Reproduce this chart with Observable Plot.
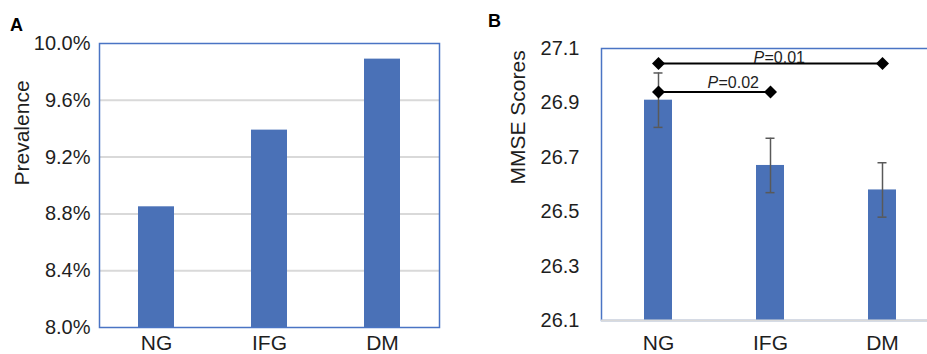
<!DOCTYPE html>
<html><head><meta charset="utf-8">
<script src="https://cdn.jsdelivr.net/npm/d3@7"></script>
<script src="https://cdn.jsdelivr.net/npm/@observablehq/plot@0.6"></script>
<style>
html,body{margin:0;padding:0;background:#fff;overflow:hidden;}
#wrap{position:relative;width:927px;height:354px;overflow:hidden;font-family:"Liberation Sans",Arial,sans-serif;}
.panel{position:absolute;top:0;}
.tag{position:absolute;font-weight:bold;font-size:18px;line-height:18px;color:#000;}
</style></head><body>
<div id="wrap"><div class="tag" style="left:10px;top:15.5px">A</div><div class="tag" style="left:488px;top:12.3px">B</div></div>
<script>
const groups = ["NG", "IFG", "DM"];
const prevalence = [8.85, 9.39, 9.89];
const prevalenceTicks = [8.0, 8.4, 8.8, 9.2, 9.6, 10.0];
const mmse = [26.91, 26.67, 26.58];
const mmseErr = [0.10, 0.10, 0.10];
const mmseTicks = [26.1, 26.3, 26.5, 26.7, 26.9, 27.1];
const compFrom = ["NG", "NG"];
const compTo = ["IFG", "DM"];
const compY = [26.94, 27.045];
const compP = ["0.02", "0.01"];

const BAR = "#4a71b7", FRAME = "#4a74c4", GRID = "#d9d9d9", ERR = "#595959", INK = "#1e1e1e";
const font = "Liberation Sans, Arial, sans-serif";
const wrap = document.getElementById("wrap");

// Panel A
const dataA = groups.map((g, i) => ({group: g, value: prevalence[i]}));
const baseA = prevalenceTicks[0];
const plotA = Plot.plot({
  width: 460, height: 354,
  marginLeft: 99, marginRight: 21, marginTop: 43, marginBottom: 27,
  style: {fontFamily: font, fontSize: "20px", color: INK, background: "transparent", overflow: "visible"},
  x: {domain: groups, paddingInner: 0.68, paddingOuter: 0.34, label: null},
  y: {domain: [prevalenceTicks[0], prevalenceTicks[prevalenceTicks.length - 1]], label: null},
  marks: [
    Plot.gridY(prevalenceTicks.slice(1, -1), {stroke: GRID, strokeOpacity: 1, strokeWidth: 2}),
    Plot.barY(dataA, {x: "group", y1: () => baseA, y2: "value", fill: BAR}),
    Plot.frame({stroke: FRAME, strokeWidth: 1.5}),
    Plot.axisY(prevalenceTicks, {tickSize: 0, tickPadding: 9, tickFormat: d => d.toFixed(1) + "%", fontSize: 20, label: null}),
    Plot.axisX({tickSize: 0, tickPadding: 7.6, fontSize: 21, label: null}),
    Plot.text(["Prevalence"], {frameAnchor: "left", dx: -77, rotate: -90, fontSize: 21})
  ]
});
plotA.classList.add("panel");
plotA.style.left = "0px";
wrap.appendChild(plotA);

// Panel B
const dataB = groups.map((g, i) => ({group: g, value: mmse[i], lo: mmse[i] - mmseErr[i], hi: mmse[i] + mmseErr[i]}));
const comps = compFrom.map((f, i) => ({from: f, to: compTo[i], y: compY[i], p: compP[i]}));
const ends = comps.flatMap(c => [{x: c.from, y: c.y}, {x: c.to, y: c.y}]);
const baseB = mmseTicks[0];
const plotB = Plot.plot({
  width: 480, height: 354,
  marginLeft: 141, marginRight: 1.5, marginTop: 48, marginBottom: 34,
  style: {fontFamily: font, fontSize: "20px", color: INK, background: "transparent", overflow: "visible"},
  x: {domain: groups, paddingInner: 0.75, paddingOuter: 0.375, label: null},
  y: {domain: [mmseTicks[0], mmseTicks[mmseTicks.length - 1]], label: null},
  marks: [
    Plot.barY(dataB, {x: "group", y1: () => baseB, y2: "value", fill: BAR}),
    Plot.frame({stroke: FRAME, strokeWidth: 1.5}),
    Plot.ruleY([baseB], {stroke: GRID, strokeWidth: 2}),
    Plot.ruleX(dataB, {x: "group", y1: "lo", y2: "hi", stroke: ERR, strokeWidth: 1.5}),
    Plot.tickY(dataB, {x: "group", y: "lo", stroke: ERR, strokeWidth: 1.5, inset: 9.5}),
    Plot.tickY(dataB, {x: "group", y: "hi", stroke: ERR, strokeWidth: 1.5, inset: 9.5}),
    Plot.link(comps, {x1: "from", x2: "to", y1: "y", y2: "y", stroke: "#000", strokeWidth: 2}),
    Plot.dot(ends, {x: "x", y: "y", symbol: "square", rotate: 45, r: 5.2, fill: "#000", stroke: null}),
    Plot.text(comps.filter(c => c.p === "0.02"), {x: "from", y: "y", text: () => "P", fontStyle: "italic", textAnchor: "start", dx: 49, dy: -9, fontSize: 16, fill: INK}),
    Plot.text(comps.filter(c => c.p === "0.02"), {x: "from", y: "y", text: c => "=" + c.p, textAnchor: "start", dx: 60, dy: -9, fontSize: 16, fill: INK}),
    Plot.text(comps.filter(c => c.p === "0.01"), {x: "from", y: "y", text: () => "P", fontStyle: "italic", textAnchor: "start", dx: 95, dy: -6, fontSize: 16, fill: INK}),
    Plot.text(comps.filter(c => c.p === "0.01"), {x: "from", y: "y", text: c => "=" + c.p, textAnchor: "start", dx: 106, dy: -6, fontSize: 16, fill: INK}),
    Plot.axisY(mmseTicks, {tickSize: 0, tickPadding: 22, tickFormat: d => d.toFixed(1), fontSize: 20, label: null}),
    Plot.axisX({tickSize: 0, tickPadding: 14.6, fontSize: 21, label: null}),
    Plot.text(["MMSE Scores"], {frameAnchor: "left", dx: -83, rotate: -90, fontSize: 21})
  ]
});
plotB.classList.add("panel");
plotB.style.left = "460px";
wrap.appendChild(plotB);
</script>
</body></html>
